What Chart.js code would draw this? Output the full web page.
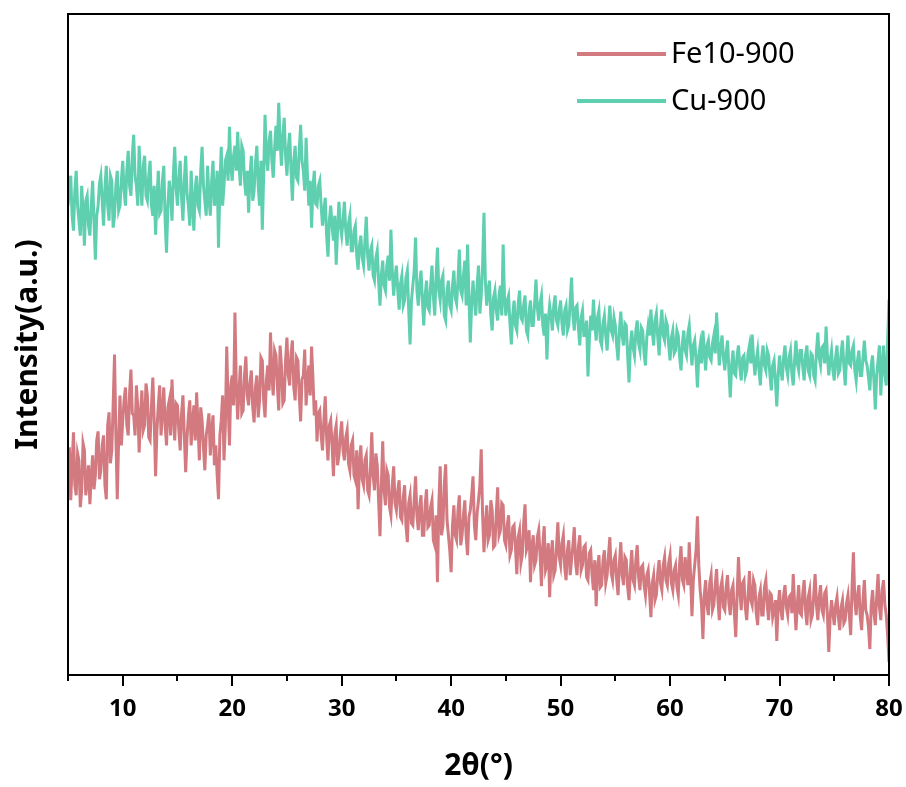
<!DOCTYPE html>
<html>
<head>
<meta charset="utf-8">
<title>XRD Fe10-900 / Cu-900</title>
<script src="https://cdn.jsdelivr.net/npm/chart.js@4.4.1/dist/chart.umd.min.js"></script>
<style>
  html, body { margin: 0; padding: 0; background: #fff; }
  #wrap { width: 906px; height: 787px; }
</style>
</head>
<body>
<div id="wrap"><canvas id="xrdChart" width="906" height="787"></canvas></div>
<script>
// scan grid: 5 to 80 deg, one reading every 0.125 deg
const startAngle = 5;
const stepAngle = 0.125;

const majorTicks = [10, 20, 30, 40, 50, 60, 70, 80];
const minorTicks = [5, 15, 25, 35, 45, 55, 65, 75];

const seriesNames = ['Fe10-900', 'Cu-900'];
const seriesColors = ['#D27A80', '#5ECFAF'];

// intensities (a.u.), one row = 2.5 deg
const fe10 = [
  200, 228, 175, 210, 243, 190, 180, 222, 215, 168, 185, 232, 225, 180, 195, 210, 171, 198, 220, 186,
  200, 235, 244, 196, 205, 230, 240, 190, 176, 250, 263, 212, 225, 270, 321, 240, 176, 235, 280, 230,
  255, 275, 288, 250, 240, 282, 306, 262, 260, 240, 290, 268, 223, 260, 285, 245, 250, 292, 280, 238,
  235, 270, 298, 255, 199, 245, 270, 290, 240, 262, 288, 250, 230, 268, 275, 240, 296, 262, 235, 272,
  270, 245, 225, 262, 280, 240, 203, 238, 260, 275, 230, 252, 270, 235, 283, 250, 215, 268, 255, 228,
  205, 240, 250, 262, 220, 245, 260, 210, 230, 200, 176, 240, 255, 280, 215, 250, 329, 272, 230, 290,
  300, 270, 363, 290, 256, 285, 310, 262, 265, 300, 319, 280, 270, 292, 305, 268, 253, 288, 300, 258,
  275, 318, 315, 275, 258, 295, 310, 285, 343, 300, 280, 325, 320, 290, 265, 330, 310, 272, 275, 315,
  338, 300, 290, 322, 335, 288, 275, 318, 315, 280, 254, 296, 300, 326, 270, 292, 310, 280, 329, 298,
  260, 275, 234, 262, 265, 240, 225, 255, 279, 238, 215, 250, 255, 230, 199, 242, 250, 210, 220, 240,
  254, 225, 215, 238, 245, 212, 205, 230, 235, 200, 195, 225, 166, 212, 230, 196, 190, 215, 220, 185,
  180, 205, 243, 200, 185, 222, 210, 175, 139, 190, 234, 185, 170, 205, 200, 168, 160, 190, 209, 172,
  165, 185, 195, 158, 155, 178, 190, 150, 133, 172, 180, 152, 150, 175, 199, 160, 145, 168, 180, 140,
  140, 170, 186, 148, 150, 168, 175, 135, 130, 160, 93, 170, 209, 140, 150, 190, 211, 155, 140, 125,
  103, 150, 170, 140, 135, 165, 180, 130, 140, 160, 175, 138, 120, 158, 165, 180, 199, 150, 135, 162,
  175, 190, 226, 160, 123, 150, 170, 135, 140, 175, 165, 128, 130, 162, 188, 140, 145, 172, 170, 135,
  130, 150, 160, 120, 125, 148, 150, 128, 101, 138, 145, 112, 120, 152, 171, 125, 130, 145, 93, 128,
  140, 110, 115, 138, 145, 120, 89, 130, 149, 105, 110, 132, 78, 120, 135, 100, 105, 128, 153, 118,
  110, 132, 140, 108, 95, 125, 135, 100, 115, 130, 148, 112, 100, 128, 140, 105, 110, 128, 130, 98,
  95, 122, 125, 100, 85, 115, 69, 105, 120, 88, 90, 115, 125, 92, 100, 120, 138, 102, 95, 115,
  120, 95, 80, 112, 133, 100, 90, 118, 115, 88, 75, 105, 125, 95, 90, 115, 130, 98, 85, 108,
  110, 90, 80, 100, 105, 82, 58, 92, 100, 75, 80, 102, 115, 92, 85, 110, 118, 95, 90, 112,
  120, 92, 85, 105, 110, 88, 80, 112, 129, 95, 90, 118, 105, 90, 133, 100, 59, 95, 110, 125,
  159, 110, 85, 70, 36, 80, 95, 70, 60, 92, 100, 65, 70, 90, 106, 75, 55, 88, 95, 68,
  65, 88, 100, 72, 60, 85, 90, 62, 38, 80, 118, 85, 65, 92, 95, 68, 55, 78, 104, 75,
  70, 95, 90, 62, 50, 78, 85, 60, 60, 88, 95, 70, 55, 82, 80, 58, 65, 75, 34, 70,
  85, 65, 55, 80, 90, 68, 60, 78, 80, 62, 101, 72, 45, 70, 90, 62, 60, 82, 95, 65,
  50, 78, 85, 55, 60, 80, 101, 70, 55, 78, 90, 65, 60, 82, 85, 60, 23, 58, 75, 62,
  50, 70, 78, 58, 45, 68, 75, 52, 55, 72, 80, 60, 40, 88, 123, 75, 60, 80, 90, 58,
  45, 75, 95, 65, 60, 48, 26, 70, 85, 62, 50, 78, 101, 68, 55, 85, 95, 70, 60, 40,
  13
];

const cu900 = [
  470, 490, 500, 460, 445, 485, 505, 470, 455, 440, 490, 465, 430, 475, 480, 450, 440, 470, 495, 455,
  416, 460, 470, 492, 500, 475, 450, 488, 510, 470, 455, 500, 495, 448, 460, 490, 505, 465, 470, 495,
  515, 485, 470, 505, 525, 490, 480, 520, 541, 500, 490, 470, 530, 495, 470, 510, 520, 480, 475, 500,
  515, 470, 460, 490, 441, 475, 505, 462, 465, 495, 510, 455, 423, 470, 495, 480, 455, 500, 529, 488,
  470, 498, 515, 478, 455, 495, 520, 482, 470, 450, 505, 470, 445, 488, 500, 470, 465, 505, 529, 490,
  475, 460, 510, 478, 460, 495, 515, 470, 480, 505, 428, 490, 529, 470, 490, 515, 520, 495, 549, 510,
  495, 520, 530, 505, 544, 510, 490, 530, 525, 495, 480, 505, 463, 500, 520, 475, 485, 512, 530, 490,
  470, 515, 446, 500, 561, 520, 505, 535, 545, 515, 498, 528, 550, 525, 573, 535, 510, 540, 558, 520,
  500, 528, 543, 505, 475, 515, 530, 498, 495, 525, 551, 515, 505, 485, 538, 500, 470, 495, 448, 488,
  505, 472, 470, 490, 495, 470, 450, 465, 478, 440, 419, 455, 470, 450, 435, 460, 411, 445, 474, 450,
  440, 455, 474, 445, 430, 452, 460, 425, 425, 445, 450, 420, 406, 430, 440, 418, 410, 435, 459, 420,
  405, 425, 430, 400, 395, 418, 425, 395, 370, 400, 415, 390, 385, 410, 420, 395, 446, 405, 380, 398,
  410, 385, 366, 392, 400, 370, 375, 398, 405, 365, 331, 375, 390, 405, 438, 385, 370, 392, 405, 375,
  350, 380, 395, 368, 365, 390, 410, 380, 360, 398, 428, 385, 375, 395, 400, 360, 355, 385, 395, 370,
  365, 390, 405, 378, 372, 395, 426, 385, 380, 400, 415, 370, 431, 380, 333, 372, 395, 375, 360, 390,
  410, 362, 380, 410, 463, 395, 370, 385, 395, 360, 345, 378, 385, 365, 355, 380, 390, 360, 431, 378,
  360, 375, 380, 352, 331, 360, 375, 350, 345, 372, 385, 358, 355, 370, 380, 345, 340, 365, 375, 350,
  350, 372, 396, 368, 355, 372, 380, 350, 340, 362, 316, 355, 370, 360, 345, 370, 380, 355, 350, 365,
  375, 352, 340, 365, 370, 345, 350, 375, 398, 360, 345, 368, 370, 348, 330, 358, 365, 340, 340, 355,
  299, 335, 360, 345, 376, 352, 335, 358, 365, 335, 330, 352, 360, 340, 325, 350, 370, 345, 340, 358,
  350, 330, 315, 345, 364, 340, 330, 352, 350, 320, 293, 330, 345, 328, 320, 345, 355, 332, 325, 348,
  345, 322, 310, 338, 350, 340, 366, 345, 330, 355, 362, 338, 320, 350, 366, 340, 335, 355, 350, 330,
  315, 338, 345, 322, 325, 345, 340, 318, 305, 332, 345, 325, 320, 342, 350, 328, 310, 330, 335, 315,
  288, 320, 330, 312, 345, 325, 305, 330, 335, 318, 315, 332, 340, 322, 363, 335, 310, 328, 340, 318,
  305, 322, 335, 305, 278, 310, 325, 302, 300, 320, 330, 308, 295, 318, 320, 300, 305, 322, 330, 312,
  341, 318, 300, 315, 325, 305, 290, 318, 330, 310, 305, 325, 320, 300, 285, 310, 315, 295, 269, 300,
  320, 305, 295, 318, 330, 308, 300, 318, 325, 302, 290, 315, 335, 312, 305, 325, 325, 308, 295, 320,
  330, 305, 300, 322, 320, 300, 295, 325, 343, 318, 310, 328, 330, 312, 349, 320, 300, 315, 325, 305,
  295, 318, 330, 302, 305, 322, 335, 310, 290, 318, 340, 312, 310, 325, 330, 305, 295, 315, 325, 300,
  300, 318, 335, 315, 310, 298, 285, 310, 320, 295, 266, 300, 315, 330, 280, 310, 330, 300, 290, 335,
  376
];

function toPoints(values) {
  return values.map((v, i) => ({ x: startAngle + i * stepAngle, y: v }));
}

const frameAndTicks = {
  id: 'frameAndTicks',
  afterDatasetsDraw(chart) {
    const { ctx, chartArea: a, scales: { x } } = chart;
    ctx.save();
    ctx.strokeStyle = '#000';
    ctx.lineWidth = 2;
    ctx.strokeRect(a.left, a.top, a.right - a.left, a.bottom - a.top);
    ctx.beginPath();
    majorTicks.forEach(v => {
      const px = Math.round(x.getPixelForValue(v));
      ctx.moveTo(px, a.bottom);
      ctx.lineTo(px, a.bottom + 11);
    });
    minorTicks.forEach(v => {
      const px = Math.round(x.getPixelForValue(v));
      ctx.moveTo(px, a.bottom);
      ctx.lineTo(px, a.bottom + 6);
    });
    ctx.stroke();
    ctx.restore();
  }
};

const insideLegend = {
  id: 'insideLegend',
  afterDraw(chart) {
    const ctx = chart.ctx;
    ctx.save();
    ctx.font = '29px "Noto Sans"';
    ctx.textBaseline = 'middle';
    ctx.fillStyle = '#000';
    chart.data.datasets.forEach((ds, i) => {
      const y = 54 + i * 47;
      ctx.strokeStyle = ds.borderColor;
      ctx.lineWidth = 4;
      ctx.beginPath();
      ctx.moveTo(577, y);
      ctx.lineTo(666, y);
      ctx.stroke();
      ctx.fillText(ds.label, 671, y + 1);
    });
    ctx.restore();
  }
};

new Chart(document.getElementById('xrdChart'), {
  type: 'line',
  data: {
    datasets: [
      {
        label: seriesNames[0],
        data: toPoints(fe10),
        borderColor: seriesColors[0],
        borderWidth: 3,
        pointRadius: 0,
        tension: 0
      },
      {
        label: seriesNames[1],
        data: toPoints(cu900),
        borderColor: seriesColors[1],
        borderWidth: 3,
        pointRadius: 0,
        tension: 0
      }
    ]
  },
  options: {
    responsive: false,
    animation: false,
    devicePixelRatio: 1,
    layout: { padding: { top: 14, right: 17, left: 0, bottom: 0 } },
    plugins: {
      legend: { display: false },
      tooltip: { enabled: false }
    },
    scales: {
      x: {
        type: 'linear',
        min: 5,
        max: 80,
        grid: { display: false, drawTicks: false },
        border: { display: false },
        afterBuildTicks: scale => { scale.ticks = majorTicks.map(v => ({ value: v })); },
        afterFit: scale => {
          scale.height = 112;
          scale.paddingLeft = 0;
          scale.paddingRight = 0;
        },
        ticks: {
          padding: 20,
          color: '#000',
          maxRotation: 0,
          font: { family: 'Noto Sans', size: 24, weight: 'bold' }
        },
        title: {
          display: true,
          text: '2θ(°)',
          color: '#000',
          padding: { top: 0, bottom: 3 },
          font: { family: 'Noto Sans', size: 30, weight: 'bold' }
        }
      },
      y: {
        min: 0,
        max: 662,
        grid: { display: false, drawTicks: false },
        border: { display: false },
        ticks: { display: false },
        afterFit: scale => { scale.width = 68; },
        title: {
          display: true,
          text: 'Intensity(a.u.)',
          color: '#000',
          padding: { top: 10, bottom: 0 },
          font: { family: 'Noto Sans', size: 30, weight: 'bold' }
        }
      }
    }
  },
  plugins: [frameAndTicks, insideLegend]
});
</script>
</body>
</html>
